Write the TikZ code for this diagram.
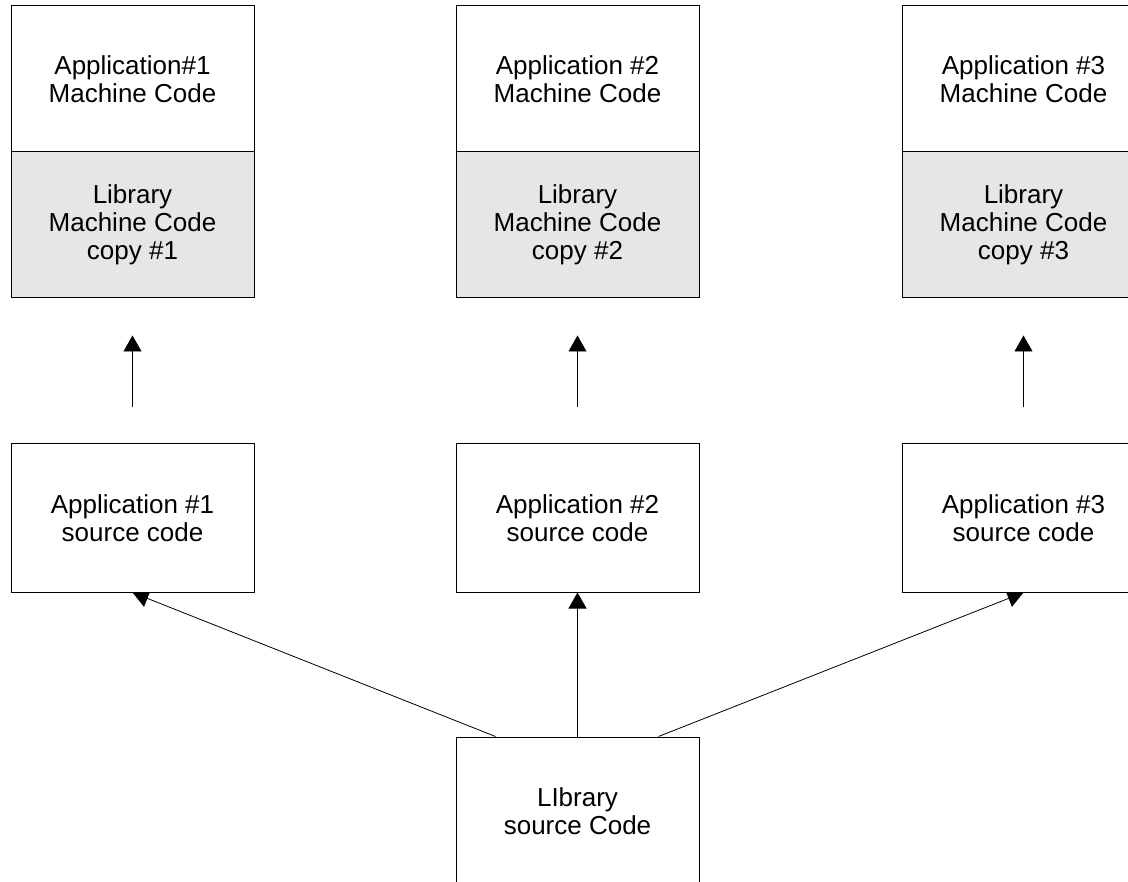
\documentclass[tikz,border=0pt]{standalone}
\usepackage{fontspec}
\setmainfont{Liberation Sans}
\usetikzlibrary{arrows.meta,backgrounds}
\definecolor{libgray}{RGB}{230,230,230}
\tikzset{
  box/.style={draw=black, line width=1pt, fill=white, rectangle, inner sep=0pt,
    minimum width=243pt, align=center, font=\fontsize{26pt}{28pt}\selectfont},
  half/.style={box, minimum height=146pt},
  libhalf/.style={half, fill=libgray},
  srcbox/.style={box, minimum height=148pt},
  arr/.style={line width=0.8pt, -{Triangle[length=16pt,width=18pt]}}
}
\begin{document}
\begin{tikzpicture}[x=1pt,y=-1pt]
\useasboundingbox (0,0) rectangle (1128,882);
\clip (0,0) rectangle (1128,882);
% top row: machine code
\node[half] (m1) at (132.5,79) {Application\#1\\Machine Code};
\node[libhalf] (l1) at (132.5,225) {Library\\Machine Code\\copy \#1};
\node[half] (m2) at (577.5,79) {Application \#2\\Machine Code};
\node[libhalf] (l2) at (577.5,225) {Library\\Machine Code\\copy \#2};
\node[half] (m3) at (1023.5,79) {Application \#3\\Machine Code};
\node[libhalf] (l3) at (1023.5,225) {Library\\Machine Code\\copy \#3};
% middle row: source code
\node[srcbox] (s1) at (132.5,518) {Application \#1\\source code};
\node[srcbox] (s2) at (577.5,518) {Application \#2\\source code};
\node[srcbox] (s3) at (1023.5,518) {Application \#3\\source code};
% bottom: library source
\node[srcbox] (lib) at (577.5,811) {LIbrary\\source Code};
% compile arrows
\draw[arr, shorten <=36pt, shorten >=37pt] (s1.north) -- (l1.south);
\draw[arr, shorten <=36pt, shorten >=37pt] (s2.north) -- (l2.south);
\draw[arr, shorten <=36pt, shorten >=37pt] (s3.north) -- (l3.south);
% library source to applications
\begin{scope}[on background layer]
\draw[arr] ([xshift=-82pt]lib.north) -- (s1.south);
\draw[arr] (lib.north) -- (s2.south);
\draw[arr] ([xshift=81pt]lib.north) -- (s3.south);
\end{scope}
\end{tikzpicture}
\end{document}
